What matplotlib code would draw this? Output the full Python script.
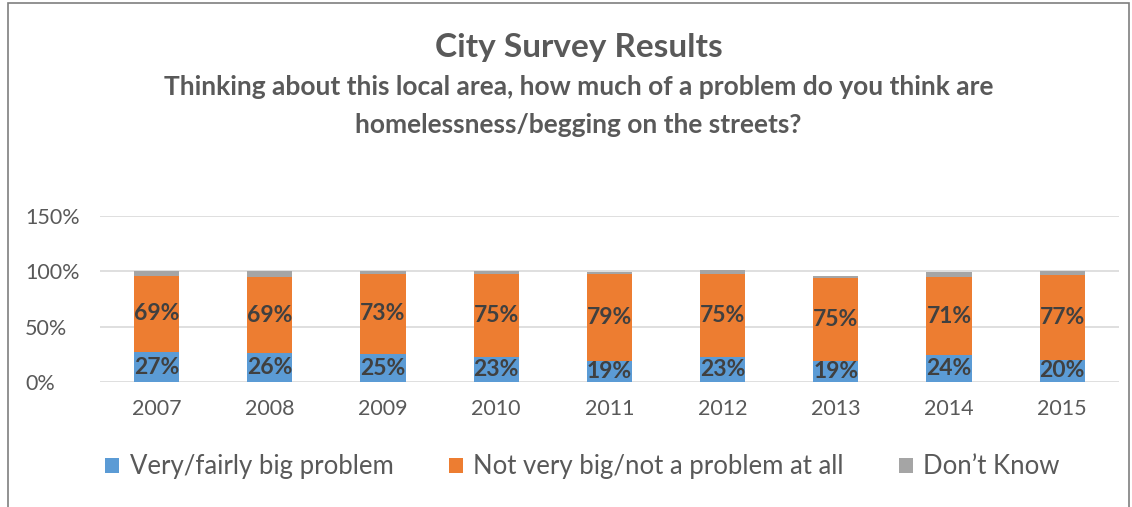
import numpy as np
import matplotlib
matplotlib.use("Agg")
import matplotlib.pyplot as plt
from matplotlib.patches import Rectangle

# data
years = ["2007", "2008", "2009", "2010", "2011", "2012", "2013", "2014", "2015"]
big_problem = [27, 26, 25, 23, 19, 23, 19, 24, 20]
not_problem = [69, 69, 73, 75, 79, 75, 75, 71, 77]
dont_know = [4, 5, 2, 2, 1, 3, 2, 4, 3]
series_names = ["Very/fairly big problem", "Not very big/not a problem at all", "Don\u2019t Know"]
colors = ["#5B9BD5", "#ED7D31", "#A5A5A5"]
yticks = [0, 50, 100, 150]

plt.rcParams["font.family"] = ["Lato", "DejaVu Sans"]

fig = plt.figure(figsize=(11.32, 5.07), dpi=100)
fig.patches.append(Rectangle((0.007, -0.05), 0.99, 1.045, transform=fig.transFigure,
                             fill=False, edgecolor="#7f7f7f", linewidth=1.2))

ax = fig.add_axes([0.0883, 0.2465, 0.9, 0.3275])
x = np.arange(len(years))
w = 0.4
b1 = ax.bar(x, big_problem, w, color=colors[0], label=series_names[0], zorder=3)
b2 = ax.bar(x, not_problem, w, bottom=big_problem, color=colors[1], label=series_names[1], zorder=3)
bottom3 = np.array(big_problem) + np.array(not_problem)
b3 = ax.bar(x, dont_know, w, bottom=bottom3, color=colors[2], label=series_names[2], zorder=3)

for bars in (b1, b2):
    ax.bar_label(bars, labels=[f"{int(v)}%" for v in bars.datavalues], label_type="center",
                 fontsize=16.5, fontweight="bold", color="#404040")

ax.set_xlim(-0.5, len(years) - 0.5)
ax.set_ylim(0, 150)
ax.set_yticks(yticks)
ax.set_yticklabels([f"{t}%" for t in yticks])
ax.set_xticks(x)
ax.set_xticklabels(years)
ax.tick_params(axis="both", length=0, labelsize=15.5, labelcolor="#595959")
ax.tick_params(axis="x", pad=12)
ax.tick_params(axis="y", pad=54)
for lbl in ax.get_yticklabels():
    lbl.set_horizontalalignment("left")
ax.grid(axis="y", color="#d9d9d9", linewidth=1.2, zorder=0)
for s in ax.spines.values():
    s.set_visible(False)

cx = 0.511
fig.text(cx, 0.907, "City Survey Results", ha="center", va="center",
         fontsize=24, fontweight="bold", color="#595959")
fig.text(cx, 0.828, "Thinking about this local area, how much of a problem do you think are",
         ha="center", va="center", fontsize=19, fontweight="bold", color="#595959")
fig.text(cx, 0.753, "homelessness/begging on the streets?",
         ha="center", va="center", fontsize=19, fontweight="bold", color="#595959")

fig.legend(handles=[b1, b2, b3], loc="center", bbox_to_anchor=(0.5146, 0.079), ncol=3,
           frameon=False, fontsize=18.5, labelcolor="#595959", handlelength=0.55,
           handleheight=0.55, handletextpad=0.4, columnspacing=2.15)

fig.savefig("out.png", dpi=100)
